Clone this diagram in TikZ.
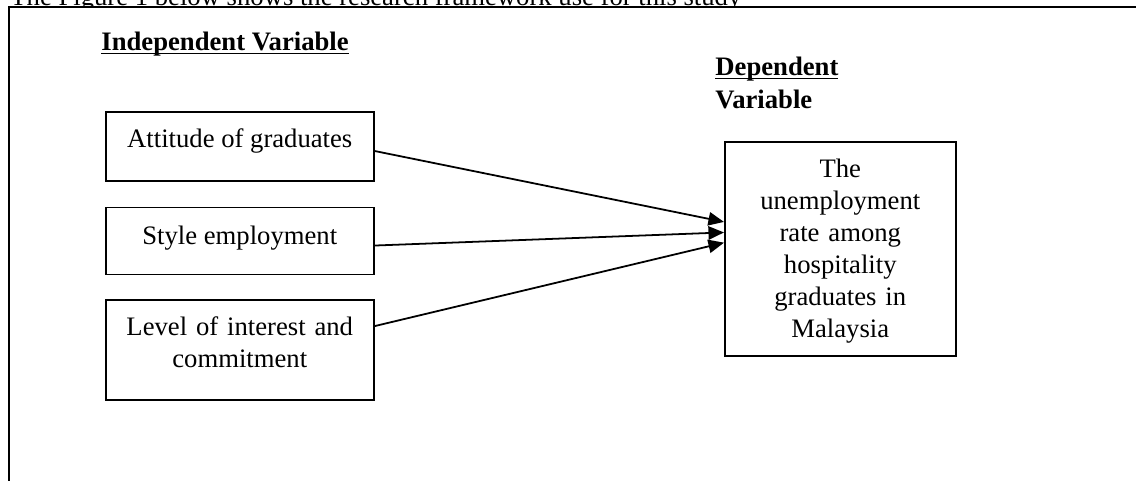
\documentclass[tikz,border=0pt]{standalone}
\usepackage{fontspec}
\setmainfont{Liberation Serif}
\usetikzlibrary{arrows.meta, positioning}

\begin{document}
\begin{tikzpicture}[x=0.45pt, y=-0.45pt, font=\fontsize{12}{14.4}\selectfont,
    ivbox/.style={rectangle, draw, line width=0.7pt, inner sep=0pt, minimum width=120.6pt},
    dvbox/.style={rectangle, draw, line width=0.7pt, inner sep=0pt, align=center},
    heading/.style={anchor=base west, inner sep=0pt, font=\fontsize{12}{14.4}\selectfont\bfseries},
    line/.style={draw, line width=0.8pt, -{Triangle[length=7pt, width=6pt]}}]

    \useasboundingbox (0,0) rectangle (1136,481);
    \clip (0,0) rectangle (1136,481);

    % text above the frame, cut by the page edge
    \node [anchor=base west, inner sep=0pt] (intro) at (10,5) {The Figure 1 below shows the research framework use for this study};
    \fill [white] (9,7) rectangle (1136,481);
    \draw [line width=0.9pt] (9,481) |- (1136,7);

    \node [heading] (indep) at (101,50) {\underline{\smash{Independent Variable}}};
    \node [heading] (dep) at (715,75) {\underline{\smash{Dependent}}};
    \node [heading] (depvar) at (715,108) {Variable};

    \node [ivbox, text height=16.2pt, text depth=14.85pt, anchor=north west] (att) at (105,111) {Attitude of graduates};
    \node [ivbox, text height=16.65pt, text depth=13.5pt, below=11.25pt of att] (style) {Style employment};
    \node [ivbox, text width=120.6pt, align=center, text height=16.2pt, text depth=28.8pt, below=10.8pt of style] (level) {Level of interest and\\commitment};

    \node [dvbox, text width=103.95pt, text height=16.2pt, text depth=80.1pt, anchor=north west] (rate) at (724,141) {The\\unemployment\\rate among\\hospitality\\graduates in\\Malaysia};

    \path [line] (att.-2) -- (rate.167.8);
    \path [line] (style.-2) -- (rate.172.1);
    \path [line] (level.10) -- (rate.177);
\end{tikzpicture}
\end{document}
